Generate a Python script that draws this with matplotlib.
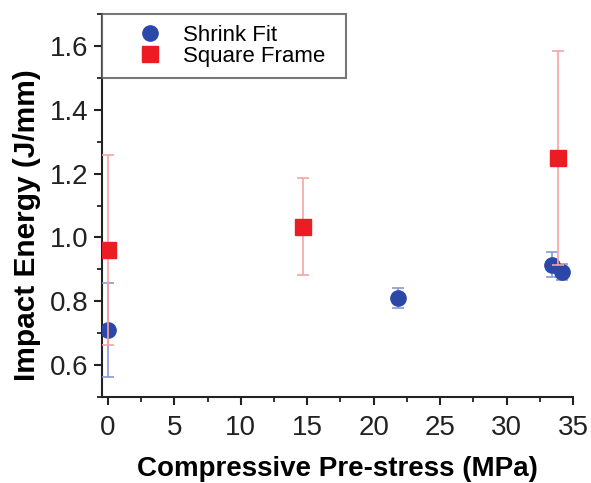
import matplotlib
matplotlib.use("Agg")
import matplotlib.pyplot as plt
from matplotlib.ticker import MultipleLocator

plt.rcParams['font.family'] = ['Liberation Sans', 'DejaVu Sans']

# Data
shrink_x = [0.0, 21.8, 33.4, 34.2]
shrink_y = [0.71, 0.81, 0.915, 0.892]
shrink_err = [0.148, 0.032, 0.039, 0.026]

square_x = [0.0, 14.7, 33.9]
square_y = [0.96, 1.034, 1.248]
square_err = [0.297, 0.152, 0.335]

fig = plt.figure(figsize=(5.91, 4.83), dpi=100)
ax = fig.add_axes([102/591, 1-397/483, (573-102)/591, (397-14)/483])

c1 = ax.errorbar(shrink_x, shrink_y, yerr=shrink_err, fmt='o', color='#2B48A8',
                 ms=11, ecolor='#8A9AD8', elinewidth=1.2, capsize=4, capthick=1.2,
                 label='Shrink Fit', zorder=3)
c2 = ax.errorbar(square_x, square_y, yerr=square_err, fmt='s', color='#EC1C24',
                 ms=11, ecolor='#F7A3A3', elinewidth=1.2, capsize=4, capthick=1.2,
                 label='Square Frame', zorder=4)

ax.set_xlim(-0.45, 35)
ax.set_ylim(0.5, 1.7)
ax.xaxis.set_major_locator(MultipleLocator(5))
ax.xaxis.set_minor_locator(MultipleLocator(2.5))
ax.yaxis.set_minor_locator(MultipleLocator(0.1))
ax.set_yticks([0.6, 0.8, 1.0, 1.2, 1.4, 1.6])

for s in ['top', 'right']:
    ax.spines[s].set_visible(False)
for s in ['left', 'bottom']:
    ax.spines[s].set_linewidth(1.5)
    ax.spines[s].set_color('#222222')

ax.tick_params(which='major', direction='out', length=6, width=1.5,
               labelsize=20, colors='#222222')
ax.tick_params(axis='x', which='major', pad=7)
ax.tick_params(axis='y', which='major', pad=4)
ax.tick_params(which='minor', direction='out', length=3.5, width=1.3, colors='#222222')

ax.set_xlabel('Compressive Pre-stress (MPa)', fontsize=20, fontweight='bold')
ax.set_ylabel('Impact Energy (J/mm)', fontsize=21.5, fontweight='bold')
ax.xaxis.set_label_coords(0.499, -0.154)
ax.yaxis.set_label_coords(-0.13, 0.449)

leg = ax.legend([c1[0], c2[0]], ['Shrink Fit', 'Square Frame'],
                loc='upper left', bbox_to_anchor=(0.0, 0.0, (346-102)/471, 1.0),
                mode='expand', fontsize=16,
                frameon=True, fancybox=False, borderaxespad=0,
                labelspacing=0.0, borderpad=0.5, handlelength=3.36,
                handletextpad=-0.23)
leg.get_frame().set_edgecolor('#555555')
leg.get_frame().set_linewidth(1.5)

fig.savefig('out.png', dpi=100)
